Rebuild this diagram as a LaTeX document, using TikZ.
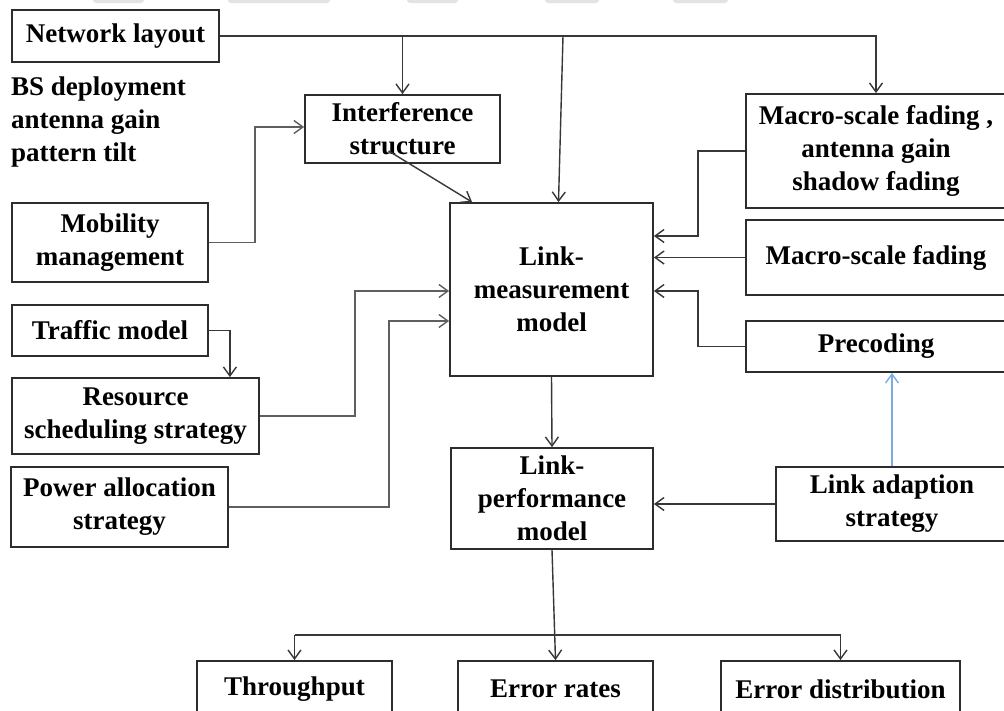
\documentclass[tikz,border=0pt]{standalone}
\usepackage{fontspec}
\setmainfont{Liberation Serif}
\usetikzlibrary{arrows.meta,calc}
\definecolor{ink}{RGB}{45,45,45}
\definecolor{wire}{RGB}{55,55,55}
\definecolor{softwire}{RGB}{95,95,95}
\definecolor{skyline}{RGB}{125,172,225}
\begin{document}
\begin{tikzpicture}[x=1pt,y=-1pt,
  txt/.style={font={\fontsize{27}{33}\selectfont\bfseries}, text=black},
  box/.style={txt, draw=ink, line width=1.8pt, align=center, inner sep=0pt, anchor=center},
  arr/.style={draw=wire, line width=1.4pt, -{Straight Barb[length=9pt,width=13pt,line width=1.4pt]}},
  garr/.style={arr, draw=softwire, line width=1.9pt},
  barr/.style={arr, draw=skyline, line width=1.6pt}]
\useasboundingbox (0,0) rectangle (1004,710);

% faint marks along the top edge
\foreach \a/\b in {93/144, 228/330, 407/458, 545/599, 673/728}
  \fill[gray!22, rounded corners=3pt] (\a,-6) rectangle (\b,3);

% input blocks on the left
\node[box, minimum width=207, minimum height=52] (net) at (115.5,36) {Network layout};
\node[txt, anchor=north west, align=left, inner sep=0pt] (bs) at (11,77)
  {BS deployment\\antenna gain\\pattern tilt};
\node[box, minimum width=196, minimum height=79] (mob) at (110,242.5) {Mobility\\management};
\node[box, minimum width=196, minimum height=51] (traf) at (110,330.5) {Traffic model};
\node[box, minimum width=247, minimum height=76] (res) at (135.5,416) {Resource\\scheduling strategy};
\node[box, minimum width=217, minimum height=80] (pow) at (119.5,507) {Power allocation\\strategy};

% central chain
\node[box, minimum width=195, minimum height=68] (inter) at (402.5,129) {Interference\\structure};
\node[box, minimum width=203, minimum height=173] (lm) at (551.5,289.5) {Link-\\measurement\\model};
\node[box, minimum width=202, minimum height=101] (lp) at (552,498.5) {Link-\\performance\\model};

% channel blocks on the right
\node[box, minimum width=260, minimum height=114] (mac1) at (876,151) {Macro-scale fading ,\\antenna gain\\shadow fading};
\node[box, minimum width=260, minimum height=75] (mac2) at (876,257.5) {Macro-scale fading};
\node[box, minimum width=260, minimum height=51] (prec) at (876,346.5) {Precoding};
\node[box, minimum width=232, minimum height=74] (la) at (892,504) {Link adaption\\strategy};

% outputs
\node[box, minimum width=195, minimum height=56] (thr) at (294.5,689) {Throughput};
\node[box, minimum width=195, minimum height=56] (err) at (555.5,689) {Error rates};
\node[box, minimum width=239, minimum height=56] (dist) at (840.5,689) {Error distribution};

% network layout feeds
\draw[arr] (net.east) -| (mac1.north);
\draw[arr] (net.east -| inter.north) -- (inter.north);
\draw[arr] (net.east -| 563,0) -- ($(lm.north)+(7,0)$);

% left-side feeds
\draw[garr] (mob.east) -- ++(46,0) |- ($(inter.west)+(0,-2)$);
\draw[arr] ($(inter.south)+(-14,-13)$) -- ($(lm.north west)+(23,0)$);
\draw[arr] (traf.east) -| ($(res.north east)+(-30,0)$);
\draw[garr] (res.east) -- ++(95,0) |- ($(lm.west)+(0,1.5)$);
\draw[garr] (pow.east) -- ++(160,0) |- ($(lm.west)+(0,31.5)$);

% right-side feeds
\draw[arr] (mac1.west) -- ++(-47,0) |- ($(lm.east)+(0,-53.5)$);
\draw[arr] (mac2.west) -- (mac2.west -| lm.east);
\draw[arr] (prec.west) -- ++(-47,0) |- ($(lm.east)+(0,1.5)$);
\draw[barr] (la.north) -- (la.north |- prec.south);
\draw[arr] (la.west) -- (la.west -| lp.east);

% down to the outputs
\draw[arr] (lm.south) -- (lp.north);
\draw[arr] (lp.south) -- (err.north);
\draw[arr] (thr.north |- 0,635) -- (thr.north);
\draw[arr] (thr.north |- 0,635) -| (dist.north);
\end{tikzpicture}
\end{document}
